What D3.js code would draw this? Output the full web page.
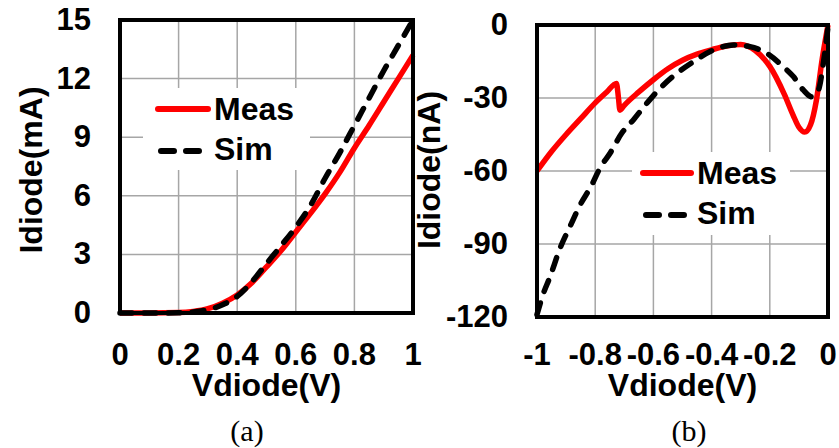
<!DOCTYPE html>
<html>
<head>
<meta charset="utf-8">
<script src="https://cdnjs.cloudflare.com/ajax/libs/d3/7.8.5/d3.min.js"></script>
<style>
body { margin: 0; background: #fff; }
text { font-family: "Liberation Sans", Arial, sans-serif; font-weight: bold; fill: #000; }
</style>
</head>
<body>
<script>
// (a) forward bias, mA
var fwdV    = [0, 0.1, 0.2, 0.25, 0.3, 0.35, 0.4, 0.45, 0.5, 0.55, 0.6, 0.65, 0.7, 0.75, 0.8, 0.85, 0.9, 0.95, 1.0];
var fwdMeas = [0, 0, 0.02, 0.08, 0.22, 0.5, 0.92, 1.55, 2.36, 3.2, 4.15, 5.1, 6.1, 7.2, 8.45, 9.6, 10.8, 12.0, 13.2];
var fwdSim  = [0, 0, 0.01, 0.05, 0.17, 0.42, 0.85, 1.6, 2.53, 3.45, 4.4, 5.5, 6.9, 8.2, 9.6, 11.0, 12.4, 13.7, 15.0];

// (b) reverse bias, nA
var revMeasV = [-1, -0.95, -0.9, -0.85, -0.8, -0.76, -0.727, -0.72, -0.715, -0.7, -0.65, -0.6, -0.55, -0.5, -0.45, -0.4, -0.35, -0.3, -0.25, -0.2, -0.15, -0.12, -0.1, -0.08, -0.06, -0.04, -0.02, 0];
var revMeas  = [-60, -52, -45, -38.5, -32, -27.5, -24, -30, -35, -33, -27.5, -22.5, -18, -14.5, -12, -10.2, -8.6, -8, -10.5, -17, -28.5, -37, -42, -44, -41, -31, -14, 0];
var revSimV  = [-1, -0.98, -0.955, -0.921, -0.887, -0.852, -0.812, -0.784, -0.749, -0.709, -0.669, -0.623, -0.577, -0.52, -0.463, -0.394, -0.325, -0.268, -0.211, -0.154, -0.119, -0.085, -0.056, -0.033, -0.016, 0];
var revSim   = [-119, -111, -103.4, -91.8, -82.9, -74, -65.8, -58.9, -52.7, -44.5, -39, -32.2, -26, -19.9, -15.1, -10.3, -8.2, -8.9, -11.6, -17.1, -21.2, -26.7, -29.5, -26.7, -15.7, -0.7];

var fwdXTicks = [0, 0.2, 0.4, 0.6, 0.8, 1];
var fwdYTicks = [0, 3, 6, 9, 12, 15];
var revXTicks = [-1, -0.8, -0.6, -0.4, -0.2, 0];
var revYTicks = [-120, -90, -60, -30, 0];
var seriesNames = ["Meas", "Sim"];

var svg = d3.select("body").append("svg")
    .attr("width", 839)
    .attr("height", 448);

function drawPanel(p) {
    var x = d3.scaleLinear().domain(p.xDomain).range([p.left, p.right]);
    var y = d3.scaleLinear().domain(p.yDomain).range([p.bottom, p.top]);
    var g = svg.append("g");

    // grid
    g.selectAll(".vgrid").data(p.xTicks).enter().append("line")
        .attr("x1", d => x(d)).attr("x2", d => x(d))
        .attr("y1", p.top).attr("y2", p.bottom)
        .style("stroke", "#a6a6a6").style("stroke-width", 1.5);
    g.selectAll(".hgrid").data(p.yTicks).enter().append("line")
        .attr("x1", p.left).attr("x2", p.right)
        .attr("y1", d => y(d)).attr("y2", d => y(d))
        .style("stroke", "#a6a6a6").style("stroke-width", 1.5);

    // legend background
    g.append("rect")
        .attr("x", p.legend.box[0]).attr("y", p.legend.box[1])
        .attr("width", p.legend.box[2]).attr("height", p.legend.box[3])
        .style("fill", "#fff");

    var line = d3.line()
        .x(d => x(d[0]))
        .y(d => y(d[1]))
        .curve(d3.curveMonotoneX);

    g.append("path")
        .datum(d3.zip(p.measV, p.meas))
        .attr("d", line)
        .style("fill", "none").style("stroke", "#ff0000")
        .style("stroke-width", 5.5).style("stroke-linejoin", "round");
    g.append("path")
        .datum(d3.zip(p.simV, p.sim))
        .attr("d", line)
        .style("fill", "none").style("stroke", "#000")
        .style("stroke-width", 5.5).style("stroke-dasharray", "12,12")
        .style("stroke-linecap", "round");

    // frame
    g.append("rect")
        .attr("x", p.left).attr("y", p.top)
        .attr("width", p.right - p.left).attr("height", p.bottom - p.top)
        .style("fill", "none").style("stroke", "#000").style("stroke-width", 4);

    // tick labels
    g.selectAll(".xt").data(p.xTicks).enter().append("text")
        .attr("x", d => x(d)).attr("y", 365)
        .attr("text-anchor", "middle")
        .style("font-size", "31px")
        .text(d => String(d));
    g.selectAll(".yt").data(p.yTicks).enter().append("text")
        .attr("x", p.yLabelX).attr("y", d => y(d) + 10)
        .attr("text-anchor", "end")
        .style("font-size", "31px")
        .text(d => String(d));

    // axis titles
    g.append("text")
        .attr("x", (p.left + p.right) / 2).attr("y", 396)
        .attr("text-anchor", "middle")
        .style("font-size", "32px")
        .text("Vdiode(V)");
    g.append("text")
        .attr("transform", "translate(" + p.yTitleX + "," + 170 + ") rotate(-90)")
        .attr("text-anchor", "middle")
        .style("font-size", "32px")
        .text(p.yTitle);

    // caption
    g.append("text")
        .attr("x", p.captionX).attr("y", 441)
        .attr("text-anchor", "middle")
        .style("font-family", "'Liberation Serif', 'Times New Roman', serif")
        .style("font-weight", "normal")
        .style("font-size", "30px")
        .text(p.caption);

    // legend
    var L = p.legend;
    g.append("line")
        .attr("x1", L.x).attr("x2", L.x + L.len)
        .attr("y1", L.y).attr("y2", L.y)
        .style("stroke", "#ff0000").style("stroke-width", 6).style("stroke-linecap", "round");
    g.append("line")
        .attr("x1", L.x + 3).attr("x2", L.x + L.len)
        .attr("y1", L.y + 42).attr("y2", L.y + 42)
        .style("stroke", "#000").style("stroke-width", 6)
        .style("stroke-dasharray", "13,12").style("stroke-linecap", "round");
    g.selectAll(".lt").data(seriesNames).enter().append("text")
        .attr("x", L.x + L.len + 6)
        .attr("y", (d, i) => L.y + 11 + i * 40)
        .style("font-size", "32px")
        .text(d => d);
}

drawPanel({
    left: 120, right: 413, top: 20, bottom: 313,
    xDomain: [0, 1], yDomain: [0, 15],
    xTicks: fwdXTicks, yTicks: fwdYTicks,
    measV: fwdV, meas: fwdMeas, simV: fwdV, sim: fwdSim,
    yLabelX: 91, yTitleX: 42, yTitle: "Idiode(mA)",
    caption: "(a)", captionX: 247,
    legend: { box: [143, 88, 167, 82], x: 158, y: 109, len: 50 }
});

drawPanel({
    left: 537, right: 828, top: 25, bottom: 317,
    xDomain: [-1, 0], yDomain: [-120, 0],
    xTicks: revXTicks, yTicks: revYTicks,
    measV: revMeasV, meas: revMeas, simV: revSimV, sim: revSim,
    yLabelX: 508, yTitleX: 440, yTitle: "Idiode(nA)",
    caption: "(b)", captionX: 689,
    legend: { box: [632, 152, 158, 83], x: 643, y: 173, len: 48 }
});
</script>
</body>
</html>
